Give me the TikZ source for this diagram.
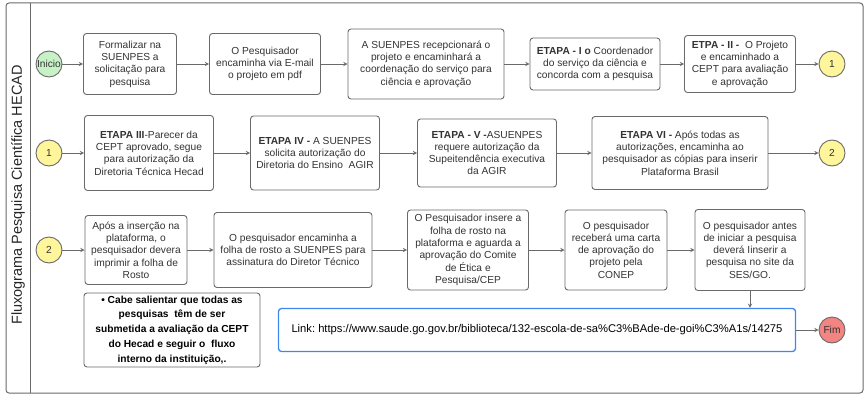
\documentclass[tikz,border=0pt]{standalone}
\usepackage{fontspec}
\setmainfont{Liberation Sans}
\usetikzlibrary{shapes.geometric, arrows, positioning}
\definecolor{linegray}{HTML}{6A6A6A}
\definecolor{txtgray}{HTML}{333333}
\definecolor{startgreen}{HTML}{C6F2C6}
\definecolor{pageyellow}{HTML}{FFF59A}
\definecolor{endred}{HTML}{F28482}
\definecolor{linkblue}{HTML}{3C88F0}
\tikzstyle{process} = [rectangle, rounded corners=3pt, draw=linegray, line width=0.9pt, fill=white, text=txtgray, align=center, inner sep=2pt, font=\fontsize{10.2}{12.3}\selectfont]
\tikzstyle{connector} = [circle, draw=linegray, line width=0.9pt, minimum size=26pt, inner sep=0pt, text=txtgray, font=\fontsize{10.2}{12}\selectfont]
\tikzstyle{linkbox} = [rectangle, rounded corners=3pt, draw=linkblue, line width=1.3pt, minimum width=517pt, minimum height=43pt, font=\fontsize{11.2}{13}\selectfont]
\tikzstyle{notebox} = [rectangle, rounded corners=3pt, draw=linegray, line width=0.9pt, align=center, minimum width=176pt, minimum height=74pt, inner sep=2pt, font=\bfseries\fontsize{10.2}{14.7}\selectfont]
\tikzstyle{arrow} = [line width=0.9pt, draw=linegray, ->, >=stealth]

\begin{document}
\frenchspacing
\begin{tikzpicture}[x=1pt, y=1pt, node distance=140pt]
\useasboundingbox (0,0) rectangle (867,397);

% Frame and title band
\draw [linegray, line width=1pt, rounded corners=3pt] (6,4) rectangle (863,394);
\draw [linegray, line width=1pt] (30,4) -- (30,394);
\node (title) [rotate=90, text=black!85, font=\fontsize{14.5}{16}\selectfont] at (18,202) {Fluxograma Pesquisa Científica HECAD};

% Row 1
\node (inicio) [connector, fill=startgreen] at (49,333) {Inicio};
\node (form) [process, minimum width=93pt, minimum height=61pt, right of=inicio, xshift=-59pt] {Formalizar na\\SUENPES a\\solicitação para\\pesquisa};
\node (email) [process, minimum width=111pt, minimum height=61pt, right of=form, xshift=-5pt] {O Pesquisador\\encaminha via E-mail\\o projeto em pdf};
\node (recep) [process, minimum width=156pt, minimum height=70pt, right of=email, xshift=21pt] {A SUENPES recepcionará o\\projeto e encaminhará a\\coordenação do serviço para\\ciência e aprovação};
\node (etapa1) [process, minimum width=130pt, minimum height=52pt, right of=recep, xshift=29pt] {\textbf{ETAPA - I o} Coordenador\\do serviço da ciência e\\concorda com a pesquisa};
\node (etapa2) [process, minimum width=111pt, minimum height=57pt, right of=etapa1, xshift=5pt] {\textbf{ETPA - II -}\ \ O Projeto\\e encaminhado a\\CEPT para avaliação\\e aprovação};
\node (pageA) [connector, fill=pageyellow, right of=etapa2, xshift=-48pt] {1};

% Row 2
\node (pageAin) [connector, fill=pageyellow, below of=inicio, yshift=51pt] {1};
\node (etapa3) [process, minimum width=129pt, minimum height=75pt, right of=pageAin, xshift=-40pt] {\textbf{ETAPA III}-Parecer da\\CEPT aprovado, segue\\para autorização da\\Diretoria Técnica Hecad};
\node (etapa4) [process, minimum width=129pt, minimum height=74pt, right of=etapa3, xshift=26pt] {\textbf{ETAPA IV -} A SUENPES\\solicita autorização do\\Diretoria do Ensino\ \ AGIR};
\node (etapa5) [process, minimum width=139pt, minimum height=68pt, right of=etapa4, xshift=32pt] {\textbf{ETAPA - V -}ASUENPES\\requere autorização da\\Supeitendência executiva\\da AGIR};
\node (etapa6) [process, minimum width=176pt, minimum height=73pt, right of=etapa5, xshift=53pt] {\textbf{ETAPA VI -} Após todas as\\autorizações, encaminha ao\\pesquisador as cópias para inserir\\Plataforma Brasil};
\node (pageB) [connector, fill=pageyellow, right of=etapa6, xshift=12pt] {2};

% Row 3
\node (pageBin) [connector, fill=pageyellow, below of=pageAin, yshift=43pt] {2};
\node (imprime) [process, minimum width=102pt, minimum height=69pt, right of=pageBin, xshift=-53pt] {Após a inserção na\\plataforma, o\\pesquisador devera\\imprimir a folha de\\Rosto};
\node (assina) [process, minimum width=158pt, minimum height=75pt, right of=imprime, xshift=17pt] {O pesquisador encaminha a\\folha de rosto a SUENPES para\\assinatura do Diretor Técnico};
\node (insere) [process, minimum width=121pt, minimum height=80pt, right of=assina, xshift=35pt] {O Pesquisador insere a\\folha de rosto na\\plataforma e aguarda a\\aprovação do Comite\\de Ética e\\Pesquisa/CEP};
\node (carta) [process, minimum width=102pt, minimum height=80pt, right of=insere, xshift=8pt] {O pesquisador\\receberá uma carta\\de aprovação do\\projeto pela\\CONEP};
\node (site) [process, minimum width=110pt, minimum height=81pt, right of=carta, xshift=-6pt] {O pesquisador antes\\de iniciar a pesquisa\\deverá Iinserir a\\pesquisa no site da\\SES/GO.};

% Link, note and end
\node (link) [linkbox] at (537,67) {Link: https://www.saude.go.gov.br/biblioteca/132-escola-de-sa\%C3\%BAde-de-goi\%C3\%A1s/14275};
\node (fim) [connector, fill=endred, right of=link, xshift=155pt] {Fim};
\node (note) [notebox] at (172,67) {• Cabe salientar que todas as\\pesquisas\ \ têm de ser\\submetida a avaliação da CEPT\\do Hecad e seguir o\ \ fluxo\\interno da instituição,.};

% Draw Arrows
\draw [arrow] (inicio) -- (form);
\draw [arrow] (form) -- (email);
\draw [arrow] (email) -- (recep);
\draw [arrow] (recep) -- (etapa1);
\draw [arrow] (etapa1) -- (etapa2);
\draw [arrow] (etapa2) -- (pageA);
\draw [arrow] (pageAin) -- (etapa3);
\draw [arrow] (etapa3) -- (etapa4);
\draw [arrow] (etapa4) -- (etapa5);
\draw [arrow] (etapa5) -- (etapa6);
\draw [arrow] (etapa6) -- (pageB);
\draw [arrow] (pageBin) -- (imprime);
\draw [arrow] (imprime) -- (assina);
\draw [arrow] (assina) -- (insere);
\draw [arrow] (insere) -- (carta);
\draw [arrow] (carta) -- (site);
\draw [arrow] (site.south) -- (site.south |- link.north);
\draw [arrow] (link) -- (fim);

\end{tikzpicture}
\end{document}
